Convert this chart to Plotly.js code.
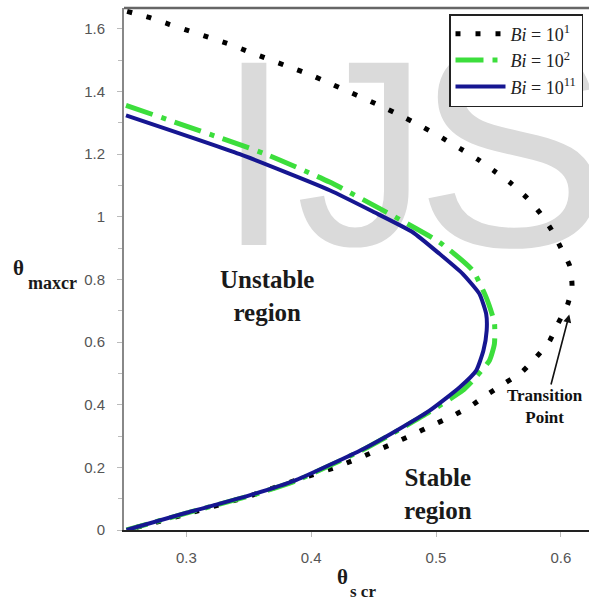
<!DOCTYPE html>
<html>
<head>
<meta charset="utf-8">
<script src="https://cdn.plot.ly/plotly-3.0.1.min.js"></script>
<style>html,body{margin:0;padding:0;background:#fff;}#chart{width:589px;height:602px;}</style>
</head>
<body>
<div id="chart"></div>
<script>
// Bi = 10^1 (black dotted)
const bi1X = [0.2525,0.2702,0.2862,0.3022,0.3182,0.3342,0.3502,0.3662,0.3822,0.398,0.4134,0.4288,0.4442,0.4602,0.4754,0.4902,0.505,0.5194,0.5334,0.5468,0.5604,0.5728,0.5834,0.5926,0.6002,0.6074,0.609,0.6054,0.598,0.5908,0.5806,0.569,0.5548,0.5408,0.5268,0.5116,0.4962,0.481,0.4654,0.4502,0.4348,0.4188,0.3908,0.3508,0.3028,0.252];
const bi1Y = [1.656,1.637,1.615,1.594,1.573,1.552,1.527,1.503,1.479,1.456,1.429,1.402,1.375,1.346,1.316,1.285,1.252,1.218,1.184,1.146,1.106,1.061,1.012,0.958,0.900,0.841,0.777,0.719,0.661,0.602,0.553,0.505,0.468,0.432,0.393,0.361,0.333,0.304,0.276,0.250,0.224,0.199,0.163,0.109,0.054,0];
// Bi = 10^2 (green dash-dot)
const bi2X = [0.2516,0.3634,0.4148,0.4602,0.5028,0.5294,0.5402,0.5468,0.5468,0.5428,0.5294,0.5212,0.4948,0.4682,0.4414,0.3882,0.3534,0.3,0.252];
const bi2Y = [1.356,1.2006,1.111,1.015,0.919,0.829,0.743,0.663,0.594,0.541,0.477,0.445,0.377,0.315,0.256,0.158,0.112,0.054,0];
// Bi = 10^11 (blue solid)
const bi11X = [0.2516,0.3428,0.4148,0.4494,0.4814,0.5028,0.5214,0.5348,0.5402,0.5406,0.538,0.5322,0.5188,0.4948,0.4682,0.4414,0.3882,0.3534,0.3,0.252];
const bi11Y = [1.324,1.200,1.085,1.017,0.951,0.882,0.818,0.754,0.690,0.637,0.573,0.509,0.455,0.381,0.317,0.258,0.160,0.114,0.055,0];

const seriesNames = ['<i>Bi</i> = 10<sup>1</sup>', '<i>Bi</i> = 10<sup>2</sup>', '<i>Bi</i> = 10<sup>11</sup>'];
const yTicks = [0,0.2,0.4,0.6,0.8,1,1.2,1.4,1.6];
const xTicks = [0.3,0.4,0.5,0.6];

const traces = [
  {x: bi1X, y: bi1Y, name: seriesNames[0], mode: 'lines', line: {color: '#000', width: 5, dash: '5px,15px', shape: 'spline', smoothing: 0.5}},
  {x: bi2X, y: bi2Y, name: seriesNames[1], mode: 'lines', line: {color: 'rgb(60,222,60)', width: 5, dash: '28px,9px,5px,9px', shape: 'spline', smoothing: 0.5}},
  {x: bi11X, y: bi11Y, name: seriesNames[2], mode: 'lines', line: {color: 'rgb(22,22,145)', width: 4, shape: 'spline', smoothing: 0.5}}
];

const serif = 'Liberation Serif, Times New Roman, serif';
const sans = 'Liberation Sans, Arial, sans-serif';
const tickFont = {family: sans, size: 15, color: '#555'};

// pixel -> paper helpers for annotation placement
const PL = 124, PW = 465, PB = 530, PH = 522;
const px = X => (X - PL) / PW;
const py = Y => (PB - Y) / PH;

function wm(letter, cx, cy, size) {
  return {type: 'rect', xref: 'paper', yref: 'paper', x0: px(cx - 60), x1: px(cx + 60), y0: py(cy + 60), y1: py(cy - 60),
    layer: 'below', line: {width: 0}, fillcolor: 'rgba(0,0,0,0)',
    label: {text: letter, textposition: 'middle center', padding: 0, font: {family: sans, size: size, color: '#dadada'}}};
}

function note(X, Y, text, size, extra) {
  return Object.assign({xref: 'paper', yref: 'paper', x: px(X), y: py(Y), xanchor: 'center', yanchor: 'middle',
    text: text, showarrow: false, font: {family: serif, size: size, color: '#1a1a1a'}}, extra || {});
}

const layout = {
  width: 589, height: 602,
  margin: {l: 124, r: 0, t: 8, b: 72},
  paper_bgcolor: '#fff', plot_bgcolor: '#fff',
  showlegend: true,
  legend: {x: px(583), xanchor: 'right', y: py(14), yanchor: 'top', bgcolor: '#fff', bordercolor: '#222', borderwidth: 1.5,
           font: {family: serif, size: 18, color: '#222'}, tracegroupgap: 0, itemwidth: 50},
  xaxis: {range: [0.25, 0.6226], tickvals: xTicks, ticks: 'outside', ticklen: 5, tickcolor: '#bbb',
          showgrid: false, zeroline: false, showline: true, linecolor: '#222', linewidth: 1.5,
          tickfont: tickFont, ticklabelstandoff: 8},
  yaxis: {range: [0, 1.667], tickvals: yTicks, ticks: 'outside', ticklen: 5, tickcolor: '#bbb',
          minor: {dtick: 0.1, tick0: 0, ticks: 'outside', ticklen: 4, tickcolor: '#bbb'},
          showgrid: false, zeroline: false, showline: true, linecolor: '#888', linewidth: 2,
          tickfont: tickFont, ticklabelstandoff: 9},
  shapes: [
    {type: 'line', xref: 'paper', yref: 'paper', x0: 0, x1: 1, y0: 1, y1: 1, line: {color: '#666', width: 2.5}},
    wm('I', 254, 128, 265),
    wm('J', 362, 128, 265),
    wm('S', 512, 118, 290)
  ],
  annotations: [
    note(18, 268, '<b>θ</b>', 21),
    note(52, 283, '<b>maxcr</b>', 18),
    note(342, 577, '<b>θ</b>', 21),
    note(363, 591, '<b>s cr</b>', 17),
    note(267, 296, '<b>Unstable<br>region</b>', 25),
    note(438, 494, '<b>Stable<br>region</b>', 25),
    {x: 0.6068, y: 0.688, xref: 'x', yref: 'y', text: '<b>Transition<br>Point</b>', showarrow: true, ax: -24, ay: 92,
     arrowhead: 2, arrowsize: 1, arrowwidth: 1.6, arrowcolor: '#111', font: {family: serif, size: 17, color: '#111'}}
  ]
};

Plotly.newPlot('chart', traces, layout, {displayModeBar: false, staticPlot: true});
</script>
</body>
</html>
